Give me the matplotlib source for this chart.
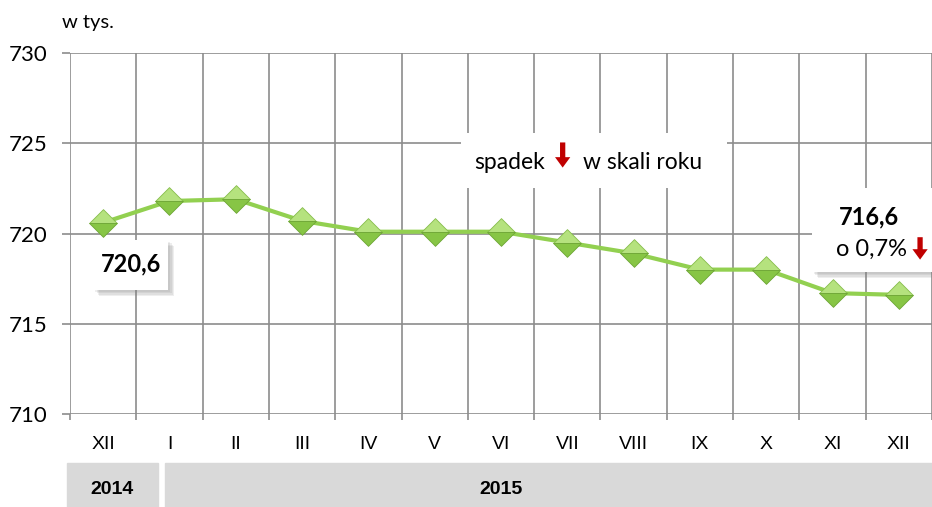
import matplotlib.pyplot as plt
import matplotlib.patheffects as pe
from matplotlib.path import Path
from matplotlib.patches import Rectangle
import matplotlib.transforms as mtransforms

# dane
months = ['XII', 'I', 'II', 'III', 'IV', 'V', 'VI', 'VII', 'VIII', 'IX', 'X', 'XI', 'XII']
values = [720.6, 721.8, 721.9, 720.7, 720.1, 720.1, 720.1, 719.5, 718.9, 718.0, 718.0, 716.7, 716.6]
years = ['2014', '2015']
y_ticks = [710, 715, 720, 725, 730]

main_font = ['Lato', 'DejaVu Sans']
narrow_font = ['Liberation Sans Narrow', 'Liberation Sans', 'DejaVu Sans']

fig = plt.figure(figsize=(9.32, 5.07), dpi=100)
ax = fig.add_axes([0.0751, 0.1834, 0.9249, 0.712])

x = list(range(len(months)))

# linia
ax.plot(x, values, color='#92d050', linewidth=3, zorder=3)

# znaczniki - dwie polowki rombu (jasniejsza gora, ciemniejszy dol)
top_half = Path([(-1, 0), (0, 1), (1, 0), (-1, 0)], [Path.MOVETO, Path.LINETO, Path.LINETO, Path.CLOSEPOLY])
bot_half = Path([(-1, 0), (0, -1), (1, 0), (-1, 0)], [Path.MOVETO, Path.LINETO, Path.LINETO, Path.CLOSEPOLY])
ax.plot(x, values, linestyle='none', marker=top_half, markersize=20,
        markerfacecolor='#b5e27e', markeredgecolor='#86bd4c', markeredgewidth=0.6, zorder=4)
ax.plot(x, values, linestyle='none', marker=bot_half, markersize=20,
        markerfacecolor='#87c545', markeredgecolor='#6ea536', markeredgewidth=0.6, zorder=4)

ax.set_xlim(-0.5, len(months) - 0.5)
ax.set_ylim(710, 730)
ax.set_yticks(y_ticks)
ax.set_yticklabels([str(v) for v in y_ticks], fontsize=16, family=main_font)
ax.set_xticks(x)
ax.set_xticklabels(months, fontsize=14, family=narrow_font)

# siatka
for yv in y_ticks:
    ax.axhline(yv, color='#8c8c8c', linewidth=1.2, zorder=1)
for i in range(len(months) + 1):
    ax.axvline(i - 0.5, color='#8c8c8c', linewidth=1.2, zorder=1)

for s in ax.spines.values():
    s.set_visible(False)
ax.tick_params(axis='y', length=6, width=1.2, color='#8c8c8c', pad=10)
ax.tick_params(axis='x', length=0, pad=16)
ax.set_xticks([i - 0.5 for i in range(len(months) + 1)], minor=True)
ax.tick_params(axis='x', which='minor', length=4, width=1.2, color='#8c8c8c')

# pasek z latami
trans = mtransforms.blended_transform_factory(ax.transData, fig.transFigure)
ax.add_patch(Rectangle((-0.545, 0.0), 1.37, 0.087, transform=trans, color='#d9d9d9', clip_on=False, zorder=0))
ax.add_patch(Rectangle((0.93, 0.0), 11.6, 0.087, transform=trans, color='#d9d9d9', clip_on=False, zorder=0))
ax.text(0.14, 0.034, years[0], transform=trans, ha='center', va='center', fontsize=14,
        fontweight='bold', family=narrow_font)
ax.text(6.0, 0.034, years[1], transform=trans, ha='center', va='center', fontsize=14,
        fontweight='bold', family=narrow_font)

fig.text(0.066, 0.955, 'w tys.', fontsize=14.5, family=main_font, ha='left', va='center')

# miekki cien pod ramkami
shadow = [pe.SimplePatchShadow(offset=(o, -o), shadow_rgbFace='#7f7f7f', alpha=0.13)
          for o in (1.5, 2.5, 3.5, 4.5)] + [pe.Normal()]

# etykieta poczatkowa
box1 = Rectangle((-0.15, 716.87), 1.13, 2.77, facecolor='white', edgecolor='none', zorder=6)
box1.set_path_effects(shadow)
ax.add_patch(box1)
ax.text(0.42, 718.3, '720,6', fontsize=17, fontweight='bold', family=main_font,
        ha='center', va='center', zorder=7)

# etykieta koncowa
box2 = Rectangle((10.69, 717.87), 2.0, 4.65, facecolor='white', edgecolor='none', zorder=6, clip_on=False)
box2.set_path_effects(shadow)
ax.add_patch(box2)
ax.text(11.55, 720.9, '716,6', fontsize=17, fontweight='bold', family=main_font,
        ha='center', va='center', zorder=7)
ax.text(11.59, 719.15, 'o 0,7%', fontsize=17, family=main_font,
        ha='center', va='center', zorder=7)
ax.annotate('', xy=(12.32, 718.4), xytext=(12.32, 719.95), zorder=8,
            arrowprops=dict(arrowstyle='simple,head_width=1.1,head_length=0.75,tail_width=0.38',
                            color='#c00000', lw=0))

# opis spadku
ax.add_patch(Rectangle((5.40, 722.5), 4.01, 3.07, facecolor='white', edgecolor='none', zorder=6))
ax.text(6.66, 723.92, 'spadek', fontsize=16.5, family=main_font, ha='right', va='center', zorder=7)
ax.text(7.23, 723.92, 'w skali roku', fontsize=16.5, family=main_font, ha='left', va='center', zorder=7)
ax.annotate('', xy=(6.93, 723.5), xytext=(6.93, 725.2), zorder=8,
            arrowprops=dict(arrowstyle='simple,head_width=1.1,head_length=0.75,tail_width=0.38',
                            color='#c00000', lw=0))

fig.savefig('out.png', dpi=100)
